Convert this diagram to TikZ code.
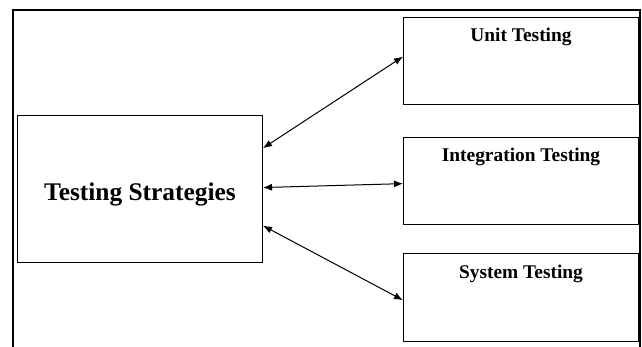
\documentclass[tikz,border=0pt]{standalone}
\usepackage{fontspec}
\setmainfont{Liberation Serif}
\usetikzlibrary{arrows.meta,calc}
\tikzset{
  box/.style={draw=black,line width=1pt,inner sep=0pt,anchor=north west},
  lbl/.style={font=\fontsize{19.4}{22}\selectfont\bfseries,anchor=base,inner sep=0pt},
  conn/.style={line width=1pt,{Latex[length=9pt,width=7pt]}-{Latex[length=9pt,width=7pt]}}
}
\begin{document}
\begin{tikzpicture}[x=1pt,y=-1pt]
\useasboundingbox (0,0) rectangle (642,347);
\clip (0,0) rectangle (642,347);
\fill[white] (0,0) rectangle (642,347);
\draw[line width=2pt] (13,10) rectangle (640,370);
\node[box,minimum width=245pt,minimum height=147pt] (ts) at (17,115) {};
\node[box,minimum width=235pt,minimum height=87pt] (ut) at (403,17) {};
\node[box,minimum width=235pt,minimum height=87pt] (it) at (403,137) {};
\node[box,minimum width=235pt,minimum height=88pt] (st) at (403,253) {};
\node[anchor=base,inner sep=0pt,font=\fontsize{25.4}{28}\selectfont\bfseries] (tsl) at ($(ts.center)+(0,11.5)$) {Testing Strategies};
\node[lbl] (utl) at ($(ut.north)+(0,25)$) {Unit Testing};
\node[lbl] (itl) at ($(it.north)+(0,25)$) {Integration Testing};
\node[lbl] (stl) at ($(st.north)+(0,25)$) {System Testing};
\draw[conn] ($(ts.north east)!0.224!(ts.south east)$) -- ($(ut.north west)!0.45!(ut.south west)$);
\draw[conn] ($(ts.north east)!0.49!(ts.south east)$) -- ($(it.north west)!0.53!(it.south west)$);
\draw[conn] ($(ts.north east)!0.748!(ts.south east)$) -- ($(st.north west)!0.53!(st.south west)$);
\end{tikzpicture}
\end{document}
